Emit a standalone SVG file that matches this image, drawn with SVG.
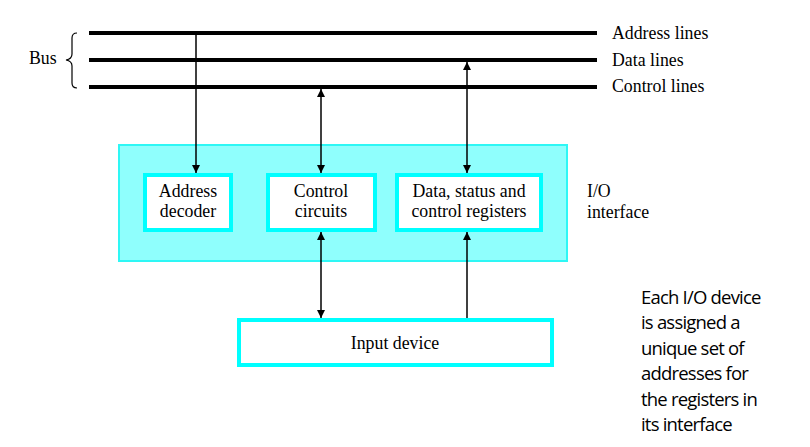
<svg xmlns="http://www.w3.org/2000/svg" width="810" height="447" viewBox="0 0 810 447">
<style>
.s{font-family:"Liberation Serif","Tinos","DejaVu Serif","Times New Roman",serif;font-size:17.8px;fill:#000}
.c{text-anchor:middle}
.bus{stroke:#000;stroke-width:4}
.ln{stroke:#000;stroke-width:1.5;fill:none}
.box{fill:#fff;stroke:#00ffff;stroke-width:4}
.note{font-family:"Open Sans","Liberation Sans",sans-serif;font-size:18.5px;letter-spacing:-0.8px;fill:#000}
</style>
<defs>
<marker id="ah" viewBox="0 0 10 10" refX="10" refY="5" markerWidth="8" markerHeight="12" markerUnits="userSpaceOnUse" orient="auto-start-reverse">
<path d="M0,0 L10,5 L0,10 z" fill="#000"/>
</marker>
</defs>
<rect width="810" height="447" fill="#fff"/>
<g id="bus">
<line class="bus" x1="89" y1="33" x2="597" y2="33"/>
<line class="bus" x1="89" y1="60" x2="597" y2="60"/>
<line class="bus" x1="89" y1="87" x2="597" y2="87"/>
<path class="ln" style="stroke-width:1.2" d="M77,33 Q72,33 72,38 L72,54 Q72,59 66,60 Q72,61 72,66 L72,83 Q72,88 77,88"/>
<text class="s" x="29" y="64">Bus</text>
<text class="s" x="612" y="39">Address lines</text>
<text class="s" x="612" y="66">Data lines</text>
<text class="s" x="612" y="92">Control lines</text>
</g>
<g id="io-interface">
<rect x="119" y="145" width="448" height="116" fill="#8ffffd" stroke="#2ef7f5" stroke-width="2"/>
<text class="s" x="587" y="197">I/O</text>
<text class="s" x="587" y="218">interface</text>
</g>
<g id="address-decoder">
<rect class="box" x="145" y="175" width="86" height="55"/>
<text class="s c" x="188" y="197">Address</text>
<text class="s c" x="188" y="217">decoder</text>
</g>
<g id="control-circuits">
<rect class="box" x="268" y="175" width="107" height="55"/>
<text class="s c" x="321" y="197">Control</text>
<text class="s c" x="321" y="217">circuits</text>
</g>
<g id="registers">
<rect class="box" x="397" y="175" width="144" height="55"/>
<text class="s c" x="469" y="197">Data, status and</text>
<text class="s c" x="469" y="217">control registers</text>
</g>
<g id="input-device">
<rect class="box" x="239" y="320" width="313" height="45"/>
<text class="s c" x="395" y="349">Input device</text>
</g>
<g id="connectors">
<line class="ln" x1="196" y1="33" x2="196" y2="173" marker-end="url(#ah)"/>
<line class="ln" x1="321" y1="89" x2="321" y2="173" marker-start="url(#ah)" marker-end="url(#ah)"/>
<line class="ln" x1="467" y1="62" x2="467" y2="173" marker-start="url(#ah)" marker-end="url(#ah)"/>
<line class="ln" x1="321" y1="232" x2="321" y2="318" marker-start="url(#ah)" marker-end="url(#ah)"/>
<line class="ln" x1="467" y1="232" x2="467" y2="318" marker-start="url(#ah)"/>
</g>
<g id="note">
<text class="note" x="641" y="304">Each I/O device</text>
<text class="note" x="641" y="329">is assigned a</text>
<text class="note" x="641" y="355">unique set of</text>
<text class="note" x="641" y="380">addresses for</text>
<text class="note" x="641" y="406">the registers in</text>
<text class="note" x="641" y="431">its interface</text>
</g>
</svg>
